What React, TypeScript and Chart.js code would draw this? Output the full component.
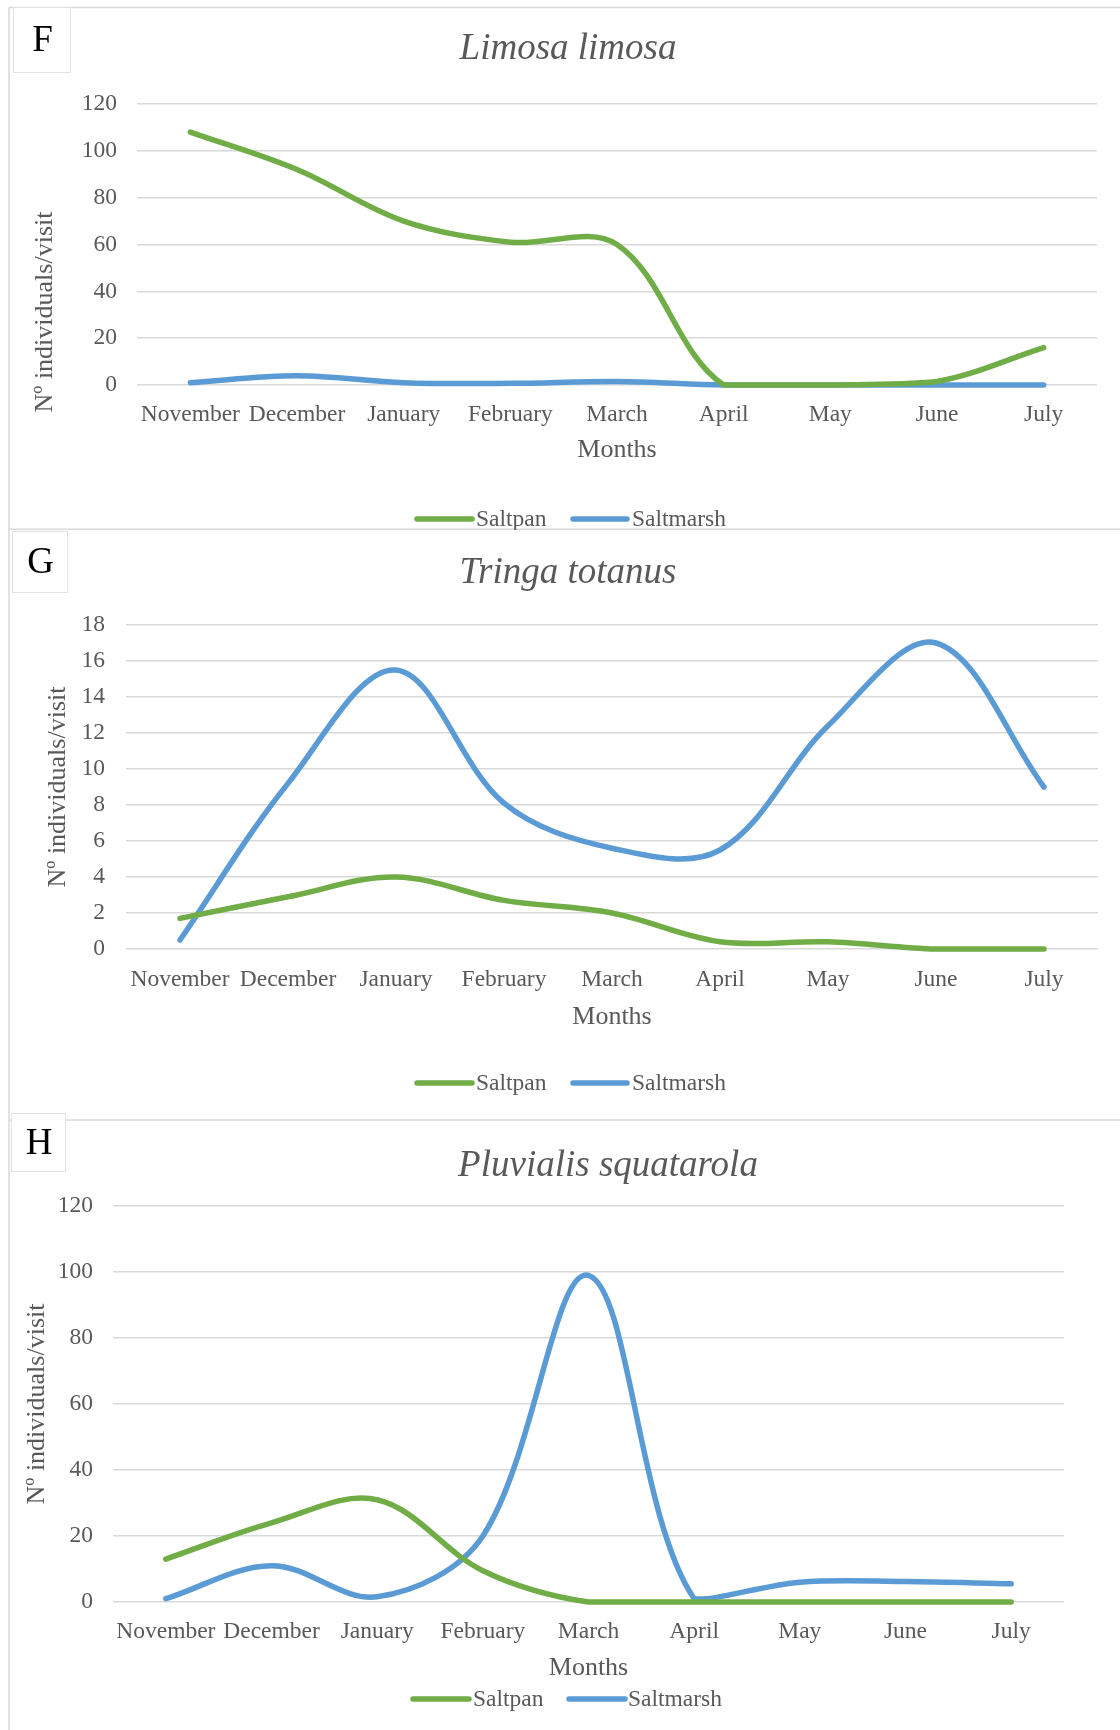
import React, { useEffect, useRef } from 'react';
import { Chart, registerables } from 'chart.js';

Chart.register(...registerables);

// ---------------- data ----------------
const months = ['November', 'December', 'January', 'February', 'March', 'April', 'May', 'June', 'July'];
const seriesNames = ['Saltpan', 'Saltmarsh'];

// F – Limosa limosa
const limosaSaltpan = [108, 92, 70, 61, 60, 0, 0, 1.5, 16];
const limosaSaltmarsh = [1, 4, 1, 0.7, 1.5, 0, 0, 0, 0];
const limosaTicks = { max: 120, step: 20 };

// G – Tringa totanus
const tringaSaltpan = [1.7, 2.9, 4.0, 2.7, 2.0, 0.4, 0.4, 0, 0];
const tringaSaltmarsh = [0.5, 9.2, 15.5, 8.1, 5.6, 5.5, 12.4, 17.0, 9.0];
const tringaTicks = { max: 18, step: 2 };

// H – Pluvialis squatarola
const pluvialisSaltpan = [13, 24, 31, 9.5, 0, 0, 0, 0, 0];
const pluvialisSaltmarsh = [1, 11, 1.6, 20, 99, 1, 6, 6.2, 5.5];
const pluvialisTicks = { max: 120, step: 20 };

const xTitle = 'Months';
const yTitle = 'Nº individuals/visit';

// ---------------- styles ----------------
const SERIF = '"Liberation Serif", "Times New Roman", Times, serif';
const TEXT = '#595959';
const GRID = '#d9d9d9';
const FRAME = '#d9d9d9';
const GREEN = '#70ad47';
const BLUE = '#5b9bd5';
const W = 1120;

type Panel = {
  letter: string;
  title: string;
  saltpan: number[];
  saltmarsh: number[];
  ticks: { max: number; step: number };
  top: number;
  height: number;
  area: { left: number; right: number; top: number; bottom: number };
  yTickPad: number;
  xTickPad: number;
  monthsPad: number;
  titleX: number;
  titleY: number;
  yTitleX: number;
  yTitleY: number;
  legendY: number;
  legendX: number[];
  box: number[];
  hLines: number[];
};

const panels: Panel[] = [
  {
    letter: 'F', title: 'Limosa limosa', saltpan: limosaSaltpan, saltmarsh: limosaSaltmarsh, ticks: limosaTicks,
    top: 0, height: 530,
    area: { left: 137, right: 1097, top: 104, bottom: 385 },
    yTickPad: 20, xTickPad: 8, monthsPad: 64.4,
    titleX: 568, titleY: 49, yTitleX: 45, yTitleY: 312,
    legendY: 519, legendX: [417, 472, 476, 573, 627, 632],
    box: [13, 7, 70, 72], hLines: [7.5, 529.25],
  },
  {
    letter: 'G', title: 'Tringa totanus', saltpan: tringaSaltpan, saltmarsh: tringaSaltmarsh, ticks: tringaTicks,
    top: 530, height: 580,
    area: { left: 126, right: 1098, top: 95, bottom: 419 },
    yTickPad: 21, xTickPad: 9, monthsPad: 77.5,
    titleX: 568, titleY: 43, yTitleX: 58, yTitleY: 257,
    legendY: 553, legendX: [417, 472, 476, 573, 627, 632],
    box: [12, 1, 67, 62], hLines: [],
  },
  {
    letter: 'H', title: 'Pluvialis squatarola', saltpan: pluvialisSaltpan, saltmarsh: pluvialisSaltmarsh, ticks: pluvialisTicks,
    top: 1110, height: 620,
    area: { left: 113, right: 1064, top: 96, bottom: 492 },
    yTickPad: 20, xTickPad: 8, monthsPad: 46,
    titleX: 608, titleY: 56, yTitleX: 37, yTitleY: 294,
    legendY: 589, legendX: [413, 469, 473, 569, 625, 628],
    box: [11, 3, 65, 61], hLines: [10],
  },
];

function makeDecor(p: Panel) {
  return {
    id: 'panelDecor' + p.letter,
    beforeDraw(chart: any) {
      const ctx = chart.ctx;
      ctx.save();
      ctx.fillStyle = '#ffffff';
      ctx.fillRect(0, 0, chart.width, chart.height);
      ctx.restore();
    },
    afterDraw(chart: any) {
      const ctx: CanvasRenderingContext2D = chart.ctx;
      ctx.save();
      // frame
      ctx.strokeStyle = FRAME;
      ctx.lineWidth = 1.5;
      for (const y of p.hLines) {
        ctx.beginPath();
        ctx.moveTo(9, y);
        ctx.lineTo(chart.width, y);
        ctx.stroke();
      }
      ctx.beginPath();
      ctx.moveTo(9, p.letter === 'F' ? p.hLines[0] : 0);
      ctx.lineTo(9, chart.height);
      ctx.stroke();

      // letter box
      const [bx0, by0, bx1, by1] = p.box;
      ctx.fillStyle = '#ffffff';
      ctx.fillRect(bx0, by0, bx1 - bx0, by1 - by0);
      ctx.strokeStyle = '#e3e3e3';
      ctx.lineWidth = 1;
      ctx.strokeRect(bx0 + 0.5, by0 + 0.5, bx1 - bx0, by1 - by0);
      ctx.fillStyle = '#000000';
      ctx.font = `37px ${SERIF}`;
      ctx.textAlign = 'center';
      ctx.textBaseline = 'middle';
      ctx.fillText(p.letter, (bx0 + bx1) / 2 + 1, (by0 + by1) / 2 + 2);

      // title
      ctx.fillStyle = TEXT;
      ctx.font = `italic 37px ${SERIF}`;
      ctx.fillText(p.title, p.titleX, p.titleY);

      // y axis title
      ctx.save();
      ctx.translate(p.yTitleX, p.yTitleY);
      ctx.rotate(-Math.PI / 2);
      ctx.font = `26px ${SERIF}`;
      ctx.fillStyle = TEXT;
      ctx.textAlign = 'center';
      ctx.textBaseline = 'middle';
      ctx.fillText(yTitle, 0, 0);
      ctx.restore();

      // legend
      const ds = chart.data.datasets;
      const lx = p.legendX;
      const items = [
        { x0: lx[0], x1: lx[1], tx: lx[2], d: ds[0] },
        { x0: lx[3], x1: lx[4], tx: lx[5], d: ds[1] },
      ];
      ctx.font = `23.5px ${SERIF}`;
      ctx.textAlign = 'left';
      ctx.textBaseline = 'middle';
      for (const it of items) {
        ctx.strokeStyle = it.d.borderColor;
        ctx.lineWidth = 5.5;
        ctx.lineCap = 'round';
        ctx.beginPath();
        ctx.moveTo(it.x0, p.legendY);
        ctx.lineTo(it.x1, p.legendY);
        ctx.stroke();
        ctx.fillStyle = TEXT;
        ctx.fillText(it.d.label, it.tx, p.legendY + 1);
      }
      ctx.restore();
    },
  };
}

function PanelChart({ p }: { p: Panel }) {
  const ref = useRef<HTMLCanvasElement>(null);
  useEffect(() => {
    const canvas = ref.current;
    if (!canvas) return;
    const lineDs = (label: string, data: number[], color: string) => ({
      label,
      data,
      borderColor: color,
      backgroundColor: color,
      borderWidth: 5.5,
      pointRadius: 0,
      pointHoverRadius: 0,
      tension: 0.35,
      borderCapStyle: 'round' as const,
      borderJoinStyle: 'round' as const,
      clip: false as any,
      fill: false,
    });
    const chart = new Chart(canvas, {
      type: 'line',
      data: {
        labels: months,
        datasets: [lineDs(seriesNames[0], p.saltpan, GREEN), lineDs(seriesNames[1], p.saltmarsh, BLUE)],
      },
      options: {
        responsive: false,
        maintainAspectRatio: false,
        animation: false,
        devicePixelRatio: 1,
        events: [],
        layout: { padding: { top: p.area.top, right: W - p.area.right, bottom: 0, left: 0 } },
        plugins: {
          legend: { display: false },
          title: { display: false },
          tooltip: { enabled: false },
        },
        scales: {
          x: {
            type: 'category',
            offset: true,
            grid: { display: false },
            border: { display: false },
            ticks: {
              color: TEXT,
              font: { family: SERIF, size: 23.5 },
              padding: p.xTickPad,
              maxRotation: 0,
              minRotation: 0,
              autoSkip: false,
            },
            title: {
              display: true,
              text: xTitle,
              color: TEXT,
              font: { family: SERIF, size: 26 },
              padding: { top: 0, bottom: p.monthsPad },
            },
            afterFit: (s: any) => {
              s.height = p.height - p.area.bottom;
            },
          },
          y: {
            min: 0,
            max: p.ticks.max,
            ticks: {
              stepSize: p.ticks.step,
              color: TEXT,
              font: { family: SERIF, size: 23.5 },
              padding: p.yTickPad,
            },
            grid: { color: GRID, lineWidth: 1.5, drawTicks: false },
            border: { display: false },
            afterFit: (s: any) => {
              s.width = p.area.left;
            },
          },
        },
      } as any,
      plugins: [makeDecor(p)],
    });
    return () => chart.destroy();
  }, [p]);
  return (
    <canvas
      ref={ref}
      width={W}
      height={p.height}
      style={{ display: 'block', width: W, height: p.height }}
    />
  );
}

export default function App() {
  return (
    <div style={{ position: 'absolute', left: 0, top: 0, width: W, height: 1730, background: '#ffffff', overflow: 'hidden' }}>
      {panels.map((p) => (
        <div key={p.letter} style={{ position: 'absolute', left: 0, top: p.top, width: W, height: p.height }}>
          <PanelChart p={p} />
        </div>
      ))}
    </div>
  );
}
